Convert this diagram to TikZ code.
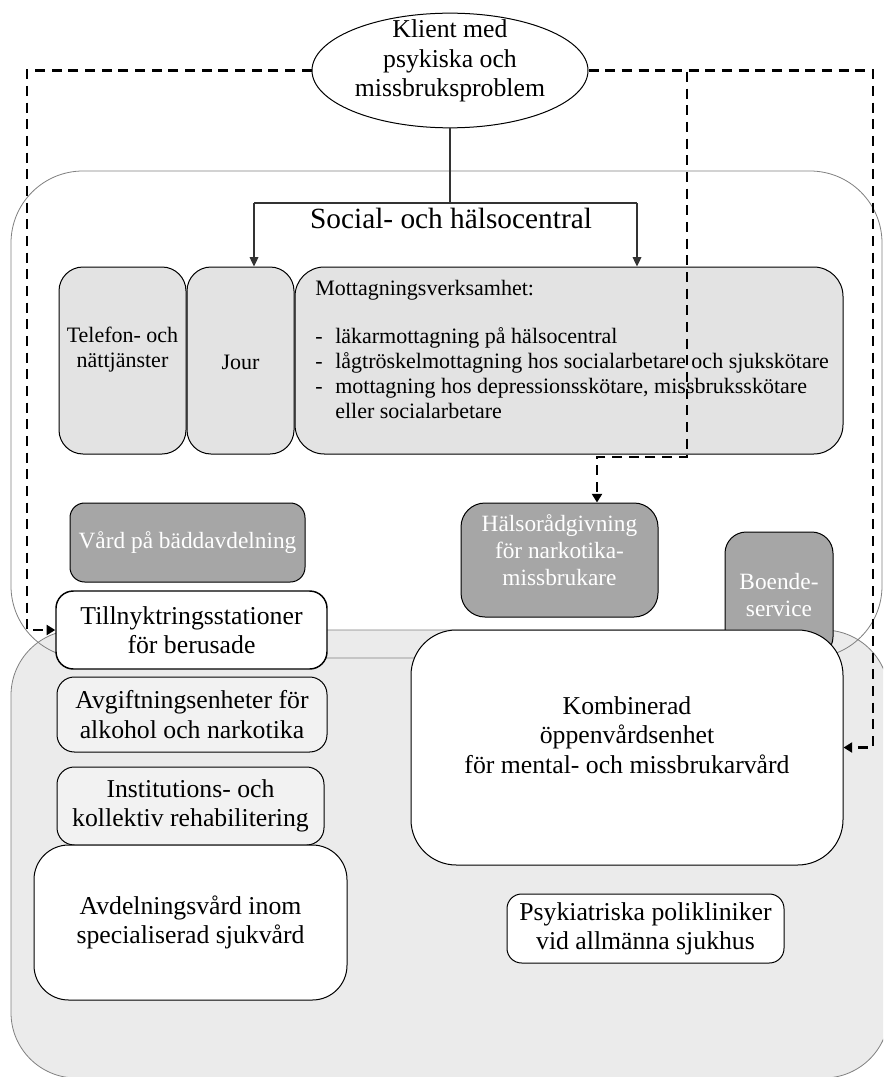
\documentclass[tikz,border=0pt]{standalone}
\usepackage{fontspec}
\setmainfont{Liberation Serif}
\usetikzlibrary{shapes.geometric,arrows.meta}
\definecolor{lightbox}{HTML}{E3E3E3}
\definecolor{darkbox}{HTML}{A6A6A6}
\definecolor{palebox}{HTML}{F2F2F2}
\definecolor{regionfill}{HTML}{EBEBEB}
\definecolor{regionline}{HTML}{808080}
\newcommand\FntBig{\fontsize{19.3}{22}\selectfont}
\newcommand\FntMid{\fontsize{16.5}{18.75}\selectfont}
\newcommand\FntGray{\fontsize{17.5}{20}\selectfont}
\newcommand\FntHead{\fontsize{22}{26}\selectfont}
\begin{document}
\begin{tikzpicture}[x=0.75pt,y=-0.75pt,
  box/.style={draw=black,line width=0.75pt,rounded corners=#1,inner sep=0pt,align=center},
  box/.default=12pt,
  txt/.style={inner sep=0pt,align=center},
  region/.style={draw=regionline,line width=0.6pt},
  conn/.style={draw=black!80,line width=0.9pt},
  tip/.style={-{Triangle[length=7pt,width=6.5pt]}},
  dsh/.style={draw=black,line width=2pt,dash pattern=on 7.5pt off 5pt,-{Triangle[length=6.5pt,width=7.5pt]}}]
\clip (0,0) rectangle (883,1077);
\fill[white] (0,0) rectangle (883,1077);
% regions
\path[region,fill=regionfill,rounded corners=49pt] (11,630) rectangle (889,1078);
\path[region,rounded corners=54pt] (11,171) rectangle (882,658);
\node[txt,font=\FntHead] (shc) at (451,218) {Social- och hälsocentral};
% client
\node[ellipse,draw=black,line width=0.75pt,minimum width=207pt,minimum height=86pt,inner sep=0pt,fill=white] (client) at (450,70.5) {};
\node[txt,font=\FntBig] (clienttxt) at (450,61) {Klient med\\psykiska och\\missbruksproblem};
% upper boxes
\node[box=18pt,fill=lightbox,minimum width=95.25pt,minimum height=140.25pt] (tel) at (122.5,360.5) {};
\node[txt,font=\FntMid] (teltxt) at (122.5,350) {Telefon- och\\nättjänster};
\node[box=18pt,fill=lightbox,minimum width=80.25pt,minimum height=140.25pt] (jour) at (240.5,360.5) {};
\node[txt,font=\FntMid] (jourtxt) at (240.5,362) {Jour};
\node[box=22pt,fill=lightbox,minimum width=411pt,minimum height=140.25pt] (mott) at (569,360.5) {};
\node[inner sep=0pt,align=left,anchor=north west,font=\FntMid] (motttxt) at (315,280)
  {Mottagningsverksamhet:\\[17.25pt]
   \makebox[15pt][l]{-}läkarmottagning på hälsocentral\\
   \makebox[15pt][l]{-}lågtröskelmottagning hos socialarbetare och sjukskötare\\
   \makebox[15pt][l]{-}mottagning hos depressionsskötare, missbruksskötare\\
   \hspace*{15pt}eller socialarbetare};
% gray boxes
\node[box=11pt,fill=darkbox,minimum width=176.25pt,minimum height=59.25pt,text=white,font=\FntGray] (vard) at (187.5,542.5) {Vård på bäddavdelning};
\node[box=18pt,fill=darkbox,minimum width=147.75pt,minimum height=85.5pt] (halso) at (559.5,560) {};
\node[txt,text=white,font=\FntGray] (halsotxt) at (559.5,550) {Hälsorådgivning\\för narkotika-\\missbrukare};
\node[box=16pt,fill=darkbox,minimum width=81pt,minimum height=94.5pt,text=white,font=\FntGray] (boende) at (779,595) {Boende-\\service};
% lower boxes
\node[box=34pt,fill=white,minimum width=324pt,minimum height=176.25pt] (komb) at (627,747.5) {};
\node[txt,font=\FntBig] (kombtxt) at (627,735) {Kombinerad\\öppenvårdsenhet\\för mental- och missbrukarvård};
\node[box=13pt,fill=white,line width=1.1pt,minimum width=203.25pt,minimum height=58.5pt,font=\FntBig] (tillny) at (191.5,630) {Tillnyktringsstationer\\för berusade};
\node[box=13pt,fill=palebox,minimum width=202.5pt,minimum height=56.25pt,font=\FntBig] (avgift) at (192,714.5) {Avgiftningsenheter för\\alkohol och narkotika};
\node[box=13pt,fill=palebox,minimum width=200.25pt,minimum height=58.5pt,font=\FntBig] (instit) at (190.5,806) {Institutions- och\\kollektiv rehabilitering};
\node[box=26pt,fill=white,minimum width=234.75pt,minimum height=116.25pt,font=\FntBig] (avdeln) at (190.5,922.5) {Avdelningsvård inom\\specialiserad sjukvård};
\node[box=11pt,fill=white,minimum width=207.75pt,minimum height=51.75pt,font=\FntBig] (psyk) at (645.5,928.5) {Psykiatriska polikliniker\\vid allmänna sjukhus};
% solid connectors
\coordinate (jl) at (254,203);
\coordinate (jr) at (637,203);
\draw[conn] (client.south) -- (client.south |- jl);
\draw[conn] (jl) -- (jr);
\draw[conn,tip] (jl) -- (jl |- jour.north);
\draw[conn,tip] (jr) -- (jr |- mott.north);
% dashed connectors
\coordinate (dl) at (27,630);
\coordinate (dm1) at (687,457);
\coordinate (dm2) at (597,457);
\coordinate (dr) at (873,747.5);
\draw[dsh] (client.west) -| (dl) -- (tillny.west);
\draw[dsh] (client.east) -| (dm1) -- (dm2) -- (dm2 |- halso.north);
\draw[dsh] (client.east) -| (dr) -- (komb.east);
\end{tikzpicture}
\end{document}
